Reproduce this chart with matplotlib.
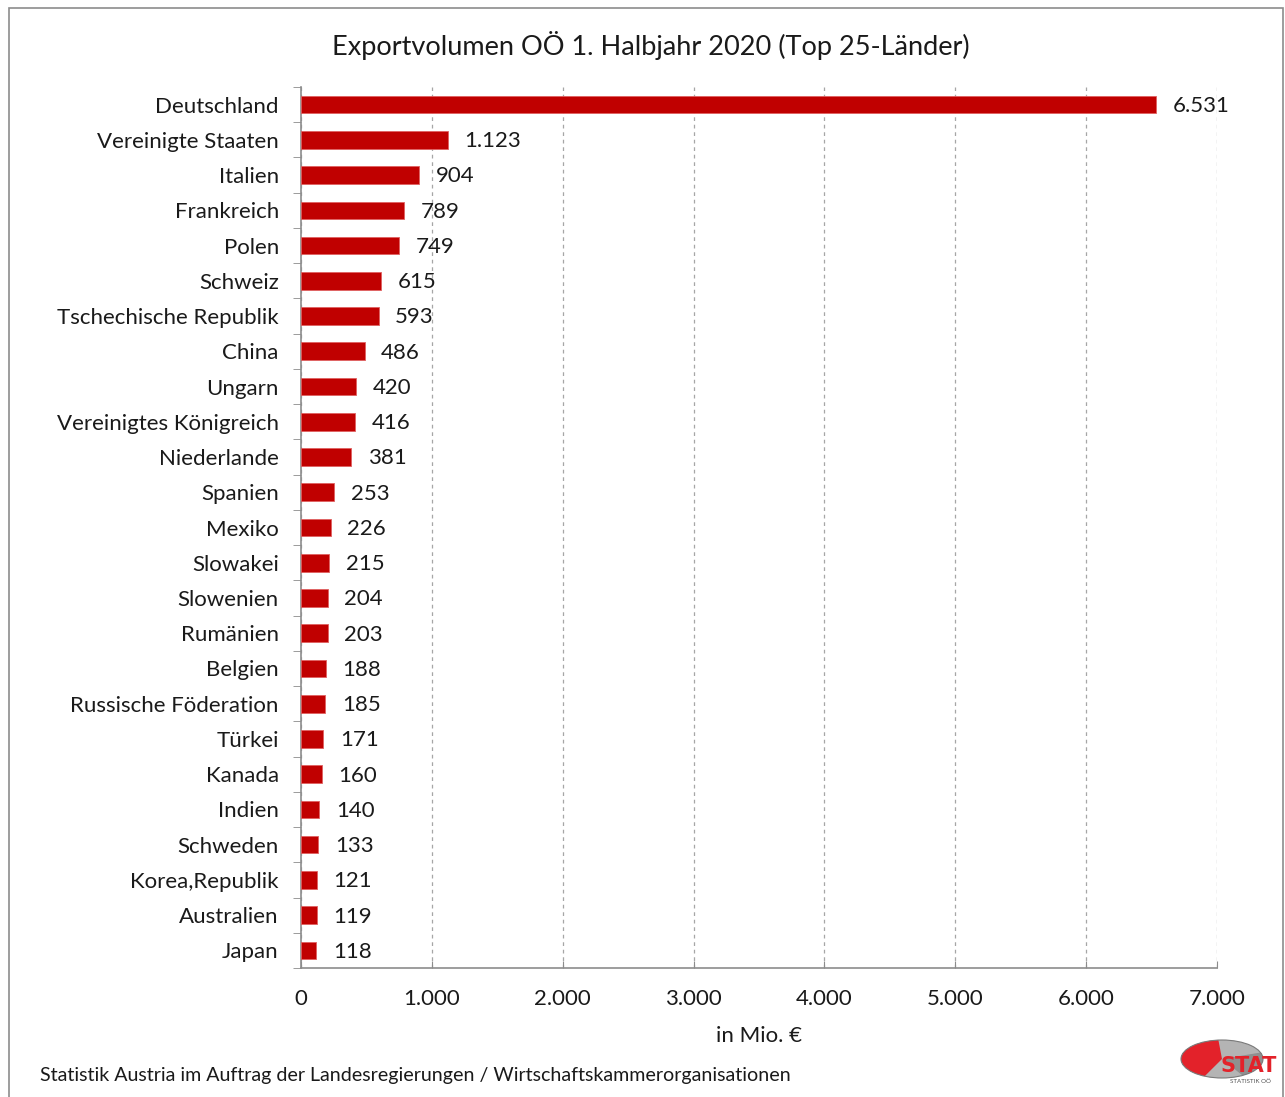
import matplotlib
matplotlib.use("Agg")
import numpy as np
import matplotlib.pyplot as plt
from matplotlib.patches import Rectangle, Ellipse, Polygon
from matplotlib.ticker import FixedLocator, FuncFormatter

countries = ["Deutschland", "Vereinigte Staaten", "Italien", "Frankreich", "Polen",
             "Schweiz", "Tschechische Republik", "China", "Ungarn", "Vereinigtes Königreich",
             "Niederlande", "Spanien", "Mexiko", "Slowakei", "Slowenien", "Rumänien",
             "Belgien", "Russische Föderation", "Türkei", "Kanada", "Indien", "Schweden",
             "Korea,Republik", "Australien", "Japan"]
values = [6531, 1123, 904, 789, 749, 615, 593, 486, 420, 416, 381, 253, 226, 215,
          204, 203, 188, 185, 171, 160, 140, 133, 121, 119, 118]
x_ticks = [0, 1000, 2000, 3000, 4000, 5000, 6000, 7000]

plt.rcParams['font.family'] = ['Lato', 'DejaVu Sans']

W, H = 1285, 1097
fig = plt.figure(figsize=(W / 100, H / 100), dpi=100)

# frame around the chart
fig.patches.append(Rectangle((9 / W, -0.01), (1283 - 9) / W, 1 - 8 / H + 0.01,
                             transform=fig.transFigure, fill=False,
                             edgecolor='#8c8c8c', linewidth=1.2))

ax = fig.add_axes([301 / W, 1 - 968 / H, (1217 - 301) / W, (968 - 87) / H])

pos = list(range(len(countries)))
ax.barh(pos, values, height=0.5, color='#C00000', edgecolor='#e06060', linewidth=0.6, zorder=3)
ax.set_ylim(len(countries) - 0.5, -0.5)
ax.set_xlim(0, 7000)

ax.set_yticks(pos)
ax.set_yticklabels(countries, fontsize=16, color='#1a1a1a')
ax.yaxis.set_minor_locator(FixedLocator([p - 0.5 for p in pos] + [len(countries) - 0.5]))
ax.tick_params(axis='y', which='major', length=0, pad=16)
ax.tick_params(axis='y', which='minor', length=6, color='#8c8c8c', direction='out')

ax.set_xticks(x_ticks)
ax.xaxis.set_major_formatter(FuncFormatter(lambda v, p: f"{int(v):,}".replace(",", ".")))
ax.tick_params(axis='x', labelsize=16, labelcolor='#1a1a1a', length=5, color='#8c8c8c',
               direction='in', pad=15)
ax.grid(axis='x', linestyle=(0, (3, 3)), color='#a6a6a6', linewidth=0.9, zorder=0)

for side in ['top', 'right']:
    ax.spines[side].set_visible(False)
for side in ['left', 'bottom']:
    ax.spines[side].set_color('#8c8c8c')
    ax.spines[side].set_linewidth(1.2)

for p, v in zip(pos, values):
    ax.annotate(f"{v:,}".replace(",", "."), (v, p), xytext=(12, -1), textcoords='offset points',
                va='center', ha='left', fontsize=16, color='#1a1a1a')

ax.set_xlabel("in Mio. €", fontsize=16, color='#1a1a1a', labelpad=12)

fig.text(651 / W, 1 - 46 / H, "Exportvolumen OÖ 1. Halbjahr 2020 (Top 25-Länder)",
         ha='center', va='center', fontsize=19.5, color='#1a1a1a')
fig.text(40 / W, 1 - 1076 / H,
         "Statistik Austria im Auftrag der Landesregierungen / Wirtschaftskammerorganisationen",
         ha='left', va='center', fontsize=14.1, color='#1a1a1a')

# STAT logo, drawn in pixel units
lx0, lx1, ly0, ly1 = 1168, 1285, 1028, 1094
lax = fig.add_axes([lx0 / W, 1 - ly1 / H, (lx1 - lx0) / W, (ly1 - ly0) / H])
lax.set_xlim(lx0, lx1)
lax.set_ylim(ly1, ly0)
lax.axis('off')
cx, cy, rx, ry = 1222, 1059, 41, 19
lax.add_patch(Ellipse((cx, cy), 2 * rx, 2 * ry, facecolor='#b4b4b4', edgecolor='none'))
t = np.radians(np.linspace(-20, 60, 40))
lax.add_patch(Polygon(np.column_stack([np.r_[cx, cx + rx * np.cos(t)], np.r_[cy, cy + ry * np.sin(t)]]),
                      facecolor='#8f8f8f', edgecolor='none'))
t = np.radians(np.linspace(95, 245, 60))
lax.add_patch(Polygon(np.column_stack([np.r_[cx, cx + rx * np.cos(t)], np.r_[cy, cy - ry * np.sin(t)]]),
                      facecolor='#e3222a', edgecolor='none'))
lax.add_patch(Ellipse((cx, cy), 2 * rx, 2 * ry, facecolor='none', edgecolor='#7a7a7a', linewidth=0.8))
lax.text(1249, 1066, "STAT", ha='center', va='center', fontsize=15, fontweight='heavy',
         color='#e3222a', family='DejaVu Sans')
lax.text(1250, 1082, "STATISTIK OÖ", ha='center', va='center', fontsize=4.5, color='#555555')

fig.savefig("out.png", dpi=100)
